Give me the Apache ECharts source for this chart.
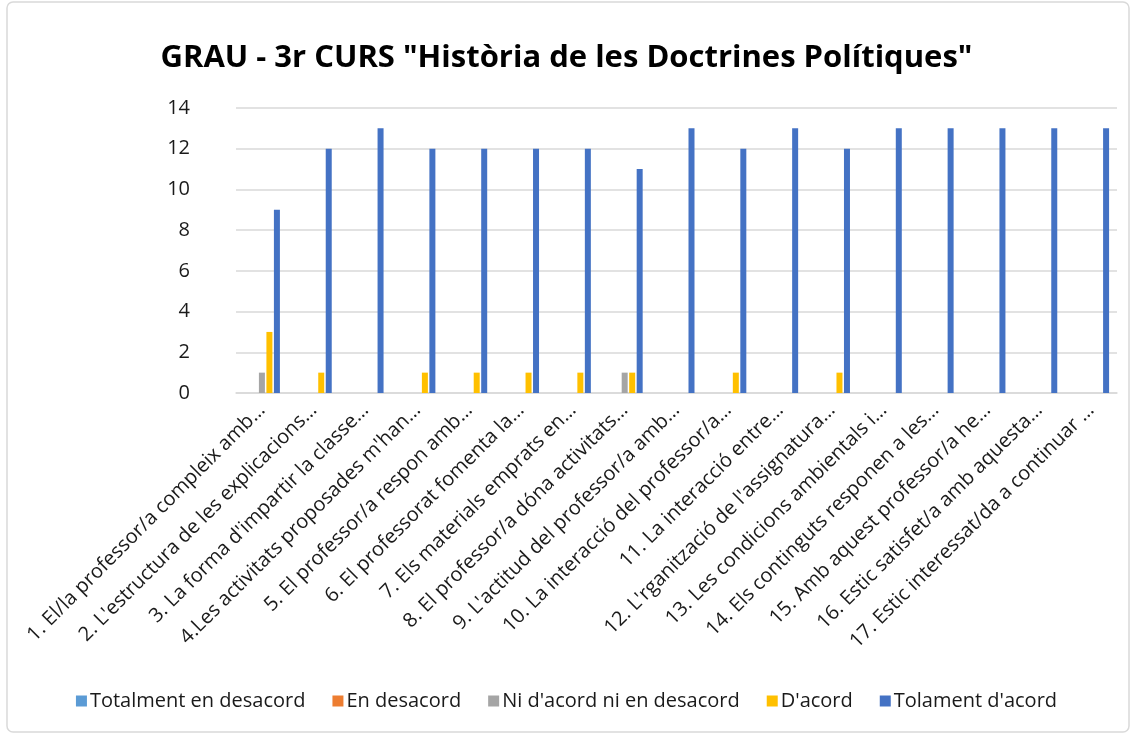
<!DOCTYPE html>
<html>
<head>
<meta charset="utf-8">
<script src="https://cdn.jsdelivr.net/npm/echarts@6/dist/echarts.min.js"></script>
<style>
  html, body { margin: 0; padding: 0; background: #fff; }
  #chart { width: 1133px; height: 736px; }
</style>
</head>
<body>
<div id="chart"></div>
<script>
// preguntes (etiquetes de l'eix X, tal com surten retallades)
var questions = [
  "1. El/la professor/a compleix amb…",
  "2. L'estructura de les explicacions…",
  "3. La forma d'impartir la classe…",
  "4.Les activitats proposades m'han…",
  "5. El professor/a respon amb…",
  "6. El professorat fomenta la…",
  "7. Els materials emprats en…",
  "8. El professor/a dóna activitats…",
  "9. L'actitud del professor/a amb…",
  "10. La interacció del professor/a…",
  "11. La interacció entre…",
  "12. L'rganització de l'assignatura…",
  "13. Les condicions ambientals i…",
  "14. Els continguts responen a les…",
  "15. Amb aquest professor/a he…",
  "16. Estic satisfet/a amb aquesta…",
  "17. Estic interessat/da a continuar …"
];

var seriesNames = ["Totalment en desacord", "En desacord", "Ni d'acord ni en desacord", "D'acord", "Tolament d'acord"];

var totalDesacord = [0,0,0,0,0,0,0,0,0,0,0,0,0,0,0,0,0];
var enDesacord    = [0,0,0,0,0,0,0,0,0,0,0,0,0,0,0,0,0];
var niAcord       = [1,0,0,0,0,0,0,1,0,0,0,0,0,0,0,0,0];
var dAcord        = [3,1,0,1,1,1,1,1,0,1,0,1,0,0,0,0,0];
var totalAcord    = [9,12,13,12,12,12,12,11,13,12,13,12,13,13,13,13,13];

var yTicks = [0, 2, 4, 6, 8, 10, 12, 14];

var colors = ["#5b9bd5", "#ed7d31", "#a5a5a5", "#ffc000", "#4472c4"];
var font = "Open Sans, Noto Sans, sans-serif";

var chart = echarts.init(document.getElementById("chart"));

var allData = [totalDesacord, enDesacord, niAcord, dAcord, totalAcord];

chart.setOption({
  animation: false,
  color: colors,
  title: {
    text: 'GRAU - 3r CURS "Història de les Doctrines Polítiques"',
    left: "center",
    top: 38,
    textStyle: { fontFamily: font, fontSize: 31, fontWeight: "bold", color: "#000" }
  },
  legend: {
    bottom: 20,
    left: "center",
    itemWidth: 11,
    itemHeight: 11,
    itemGap: 27,
    icon: "rect",
    textStyle: { fontFamily: font, fontSize: 20, color: "#1a1a1a", padding: [0, 0, 0, -2] },
    data: seriesNames
  },
  grid: { left: 236, right: 16, top: 108, bottom: 343, containLabel: false },
  xAxis: {
    type: "category",
    data: questions,
    axisLine: { lineStyle: { color: "#d9d9d9", width: 1.5 } },
    axisTick: { show: false },
    axisLabel: {
      rotate: 45,
      interval: 0,
      margin: 14,
      fontFamily: font,
      fontSize: 20,
      color: "#1a1a1a"
    }
  },
  yAxis: {
    type: "value",
    min: yTicks[0],
    max: yTicks[yTicks.length - 1],
    interval: 2,
    axisLine: { show: false },
    axisTick: { show: false },
    splitLine: { lineStyle: { color: "#d9d9d9", width: 1.5 } },
    axisLabel: { margin: 46, fontFamily: font, fontSize: 20, color: "#1a1a1a" }
  },
  series: seriesNames.map(function (name, i) {
    return {
      name: name,
      type: "bar",
      data: allData[i],
      barWidth: 6,
      barGap: "25%",
      barCategoryGap: "28%"
    };
  }),
  graphic: [{
    type: "rect",
    shape: { x: 7, y: 2, width: 1122, height: 730, r: 6 },
    style: { fill: "none", stroke: "#d9d9d9", lineWidth: 1.5 },
    silent: true,
    z: -1
  }]
});
</script>
</body>
</html>
